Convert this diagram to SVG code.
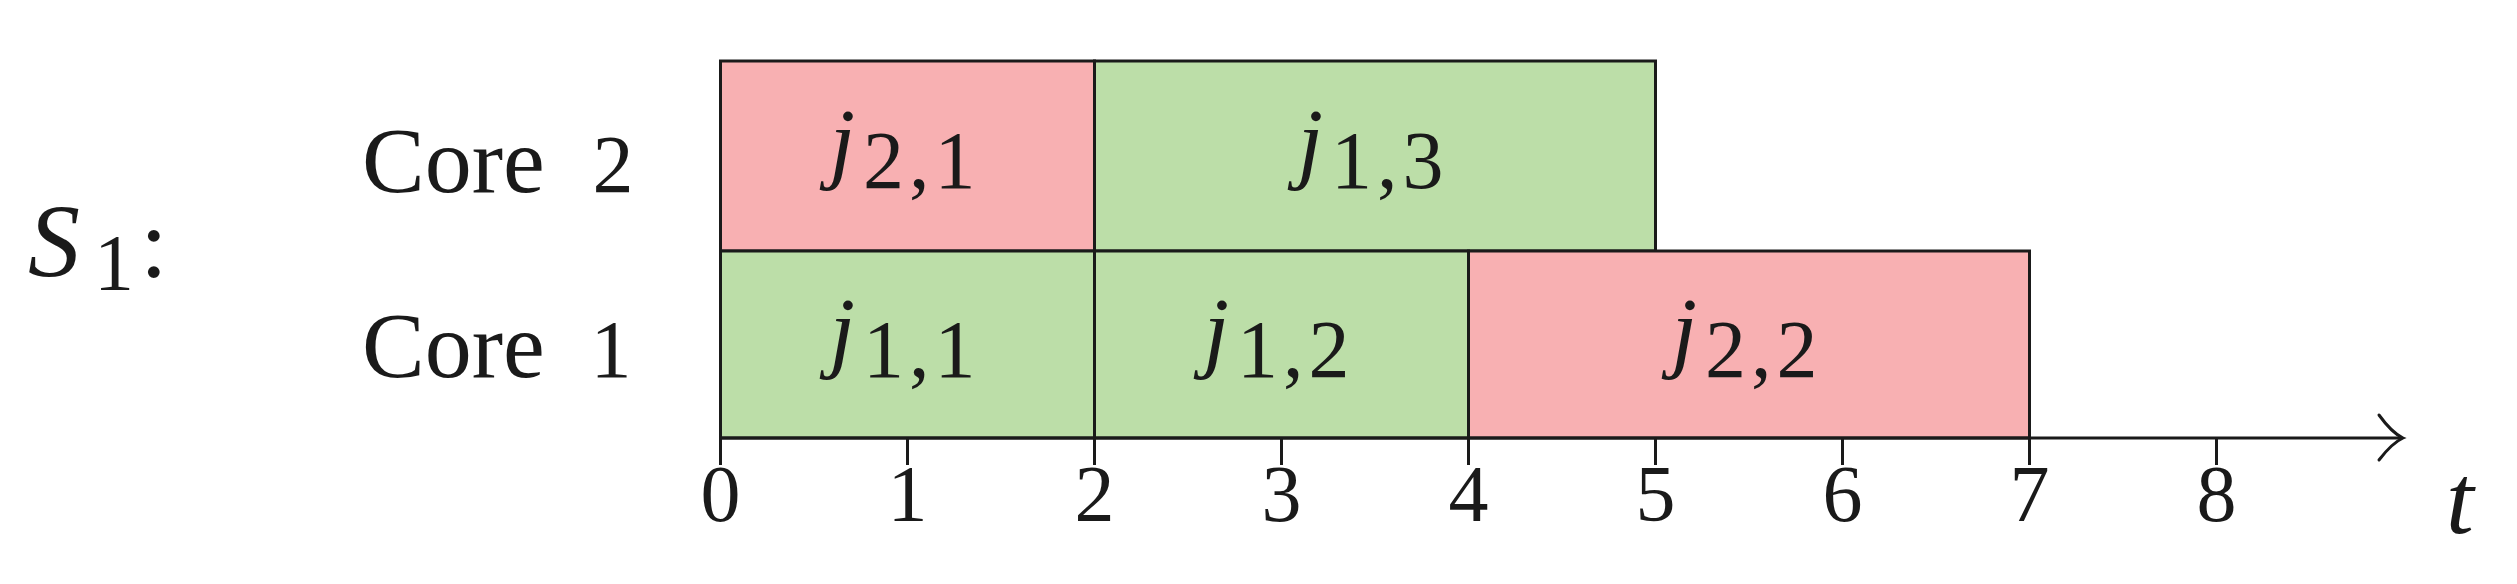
<svg xmlns="http://www.w3.org/2000/svg" width="2517" height="584" viewBox="0 0 2517 584">
<style>
.txt{font-family:"Liberation Serif","Times New Roman",serif;fill:#1a1a1a}
.it{font-style:italic}
.box{stroke:#1a1a1a;stroke-width:3}
.red{fill:#F8B0B2}
.green{fill:#BCDEA8}
.ax{stroke:#1a1a1a;stroke-width:3;fill:none}
.lbl{font-size:92px;text-anchor:middle}
.sub{font-size:82px;letter-spacing:5px}
.tick{font-size:80px;text-anchor:middle}
</style>
<rect width="2517" height="584" fill="#ffffff"/>
<g id="label-s1">
<text class="txt it" x="28" y="276" font-size="104">S</text>
<text class="txt" x="94" y="290" font-size="80">1</text>
<text class="txt" x="140" y="277" font-size="100">:</text>
</g>
<g id="label-core2">
<text class="txt" x="362" y="192" font-size="94">Core</text>
<text class="txt" x="613" y="192" font-size="82" text-anchor="middle">2</text>
</g>
<g id="label-core1">
<text class="txt" x="362" y="377" font-size="94">Core</text>
<text class="txt" x="611" y="377" font-size="82" text-anchor="middle">1</text>
</g>
<g id="j21">
<rect class="box red" x="720.5" y="61" width="374" height="190"/>
<text class="txt lbl" x="905" y="172"><tspan class="it">j</tspan><tspan class="sub" dx="8" dy="16">2,1</tspan></text>
</g>
<g id="j13">
<rect class="box green" x="1094.5" y="61" width="561" height="190"/>
<text class="txt lbl" x="1373" y="172"><tspan class="it">j</tspan><tspan class="sub" dx="8" dy="16">1,3</tspan></text>
</g>
<g id="j11">
<rect class="box green" x="720.5" y="251" width="374" height="187"/>
<text class="txt lbl" x="905" y="361"><tspan class="it">j</tspan><tspan class="sub" dx="8" dy="16">1,1</tspan></text>
</g>
<g id="j12">
<rect class="box green" x="1094.5" y="251" width="374" height="187"/>
<text class="txt lbl" x="1279" y="361"><tspan class="it">j</tspan><tspan class="sub" dx="8" dy="16">1,2</tspan></text>
</g>
<g id="j22">
<rect class="box red" x="1468.5" y="251" width="561" height="187"/>
<text class="txt lbl" x="1747" y="361"><tspan class="it">j</tspan><tspan class="sub" dx="8" dy="16">2,2</tspan></text>
</g>
<g id="connectors">
<line class="ax" x1="720.5" y1="438" x2="2402" y2="438"/>
<path class="ax" d="M2379,415 Q2392,433 2403,438 Q2392,443 2379,460" stroke-linecap="round"/>
<path class="ax" d="M720.5,438v27 M907.5,438v27 M1094.5,438v27 M1281.5,438v27 M1468.5,438v27 M1655.5,438v27 M1842.5,438v27 M2029.5,438v27 M2216.5,438v27"/>
</g>
<g id="axis-labels">
<text class="txt tick" x="720.5" y="521">0</text>
<text class="txt tick" x="907.5" y="521">1</text>
<text class="txt tick" x="1094.5" y="521">2</text>
<text class="txt tick" x="1281.5" y="521">3</text>
<text class="txt tick" x="1468.5" y="521">4</text>
<text class="txt tick" x="1655.5" y="521">5</text>
<text class="txt tick" x="1842.5" y="521">6</text>
<text class="txt tick" x="2029.5" y="521">7</text>
<text class="txt tick" x="2216.5" y="521">8</text>
<text class="txt it" x="2460" y="533" font-size="100" text-anchor="middle">t</text>
</g>
</svg>
